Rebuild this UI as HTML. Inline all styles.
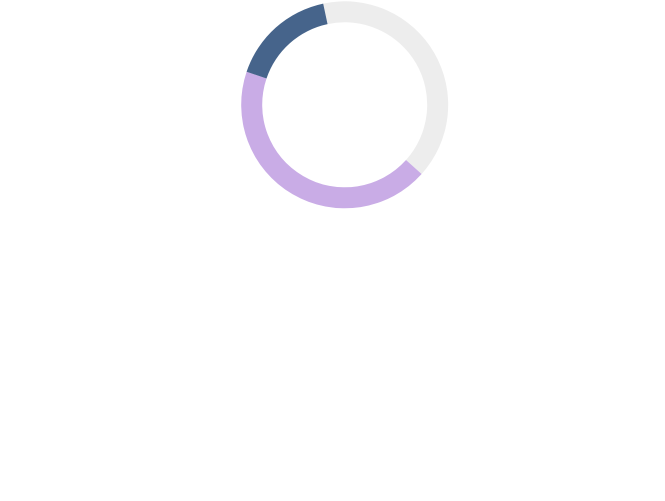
<!DOCTYPE html>
<html>
<head>
<meta charset="utf-8">
<style>
  html, body { margin: 0; padding: 0; background: #ffffff; }
  body { width: 665px; height: 501px; overflow: hidden; }
  svg { display: block; }
</style>
</head>
<body>
<svg width="665" height="501" viewBox="0 0 665 501" xmlns="http://www.w3.org/2000/svg">
  <rect width="665" height="501" fill="#ffffff"/>
  <!-- gray segment -->
  <path d="M323.18,3.57 A103.5,103.5 0 0 1 421.61,174.05 L406.01,160.00 A82.5,82.5 0 0 0 327.55,24.11 Z" fill="#ededed"/>
  <!-- purple segment -->
  <path d="M421.61,174.05 A103.5,103.5 0 0 1 246.60,71.78 L266.51,78.48 A82.5,82.5 0 0 0 406.01,160.00 Z" fill="#c9ace6"/>
  <!-- blue segment -->
  <path d="M246.60,71.78 A103.5,103.5 0 0 1 323.18,3.57 L327.55,24.11 A82.5,82.5 0 0 0 266.51,78.48 Z" fill="#46648b"/>
</svg>
</body>
</html>
